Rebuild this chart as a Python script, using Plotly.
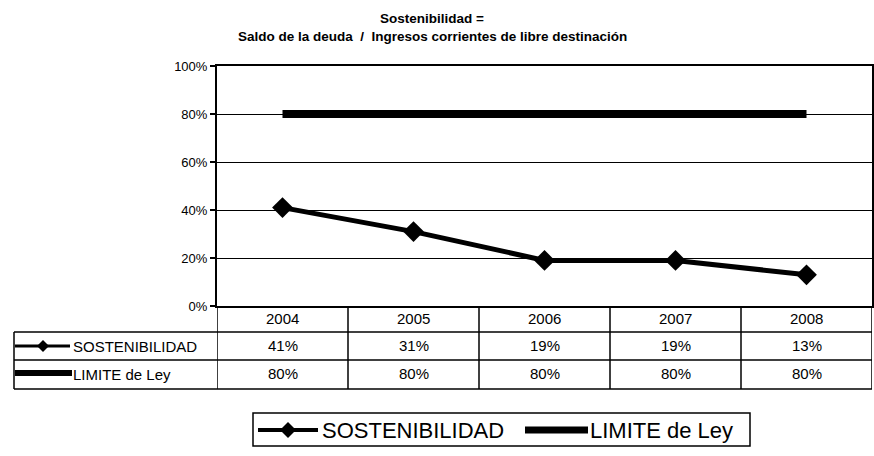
import plotly.graph_objects as go

# ---- data ----
years = ["2004", "2005", "2006", "2007", "2008"]
sostenibilidad = [0.41, 0.31, 0.19, 0.19, 0.13]
limite_ley = [0.80, 0.80, 0.80, 0.80, 0.80]
series_names = ["SOSTENIBILIDAD", "LIMITE de Ley"]
y_ticks = [0, 0.2, 0.4, 0.6, 0.8, 1.0]
title_lines = ["Sostenibilidad =", "Saldo de la deuda  /  Ingresos corrientes de libre destinación"]

W, H = 874, 456
FONT = "Liberation Sans, Arial, sans-serif"


def px(x):
    return x / W


def py(y):
    return 1 - y / H


fig = go.Figure()

fig.add_trace(go.Scatter(
    x=years, y=limite_ley, mode="lines", name=series_names[1],
    line=dict(color="black", width=8), showlegend=False))
fig.add_trace(go.Scatter(
    x=years, y=sostenibilidad, mode="lines+markers", name=series_names[0],
    line=dict(color="black", width=5),
    marker=dict(symbol="diamond", size=16, color="black"), showlegend=False))

shapes = []
annotations = []


def label(x, y, text, size, xanchor="center", xref="paper", bold=False):
    annotations.append(dict(xref=xref, yref="paper", x=x, y=y, xanchor=xanchor, yanchor="middle",
                            text=("<b>" + text + "</b>") if bold else text, showarrow=False,
                            font=dict(family=FONT, size=size, color="black")))


# title
label(px(432), py(19), title_lines[0], 13.5, bold=True)
label(px(432), py(37), title_lines[1], 13.5, bold=True)

# ---- data table ----
LW = 1.5
row_y = [306, 332, 360, 389]
for yy in row_y[1:]:
    shapes.append(dict(type="line", xref="paper", yref="paper", x0=px(14), x1=px(872),
                       y0=py(yy), y1=py(yy), line=dict(color="black", width=LW)))
shapes.append(dict(type="line", xref="paper", yref="paper", x0=px(14), x1=px(14),
                   y0=py(332), y1=py(389), line=dict(color="black", width=LW)))
for i in range(len(years) + 1):
    shapes.append(dict(type="line", xref="x", yref="paper", x0=i - 0.5, x1=i - 0.5,
                       y0=py(306), y1=py(389), line=dict(color="black", width=LW)))

row_vals = [sostenibilidad, limite_ley]
text_y = [318, 345, 373]
for i, yr in enumerate(years):
    label(i, py(text_y[0]), yr, 15, xref="x")
    for r, vals in enumerate(row_vals):
        label(i, py(text_y[r + 1]), f"{round(vals[i] * 100)}%", 15, xref="x")

# row labels with keys
for r, name in enumerate(series_names):
    label(px(71), py(text_y[r + 1] + 1), name, 15, xanchor="left")
yk = 346
shapes.append(dict(type="line", xref="paper", yref="paper", x0=px(15), x1=px(70),
                   y0=py(yk), y1=py(yk), line=dict(color="black", width=3)))
d = 6
shapes.append(dict(type="path", xref="paper", yref="paper",
                   path=f"M{px(43-d)},{py(yk)} L{px(43)},{py(yk-d)} L{px(43+d)},{py(yk)} L{px(43)},{py(yk+d)} Z",
                   fillcolor="black", line=dict(color="black", width=0)))
yk2 = 373
shapes.append(dict(type="line", xref="paper", yref="paper", x0=px(15), x1=px(72),
                   y0=py(yk2), y1=py(yk2), line=dict(color="black", width=6)))

# ---- custom legend ----
shapes.append(dict(type="rect", xref="paper", yref="paper", x0=px(253), x1=px(750),
                   y0=py(413), y1=py(446), line=dict(color="black", width=1.5)))
yl = 430
shapes.append(dict(type="line", xref="paper", yref="paper", x0=px(258), x1=px(318),
                   y0=py(yl), y1=py(yl), line=dict(color="black", width=4)))
d = 8
shapes.append(dict(type="path", xref="paper", yref="paper",
                   path=f"M{px(288-d)},{py(yl)} L{px(288)},{py(yl-d)} L{px(288+d)},{py(yl)} L{px(288)},{py(yl+d)} Z",
                   fillcolor="black", line=dict(color="black", width=0)))
shapes.append(dict(type="line", xref="paper", yref="paper", x0=px(525), x1=px(588),
                   y0=py(yl), y1=py(yl), line=dict(color="black", width=7)))
label(px(320), py(yl), series_names[0], 22, xanchor="left")
label(px(588), py(yl), series_names[1], 22, xanchor="left")

fig.update_layout(
    template="none",
    width=W, height=H,
    margin=dict(l=0, r=0, t=0, b=0, pad=0, autoexpand=False),
    paper_bgcolor="white", plot_bgcolor="white",
    showlegend=False,
    shapes=shapes, annotations=annotations,
    xaxis=dict(domain=[px(217), px(872)], type="category", range=[-0.5, 4.5],
               showticklabels=False, showgrid=False, zeroline=False, automargin=False,
               showline=True, linecolor="black", linewidth=2, mirror=True, ticks=""),
    yaxis=dict(domain=[py(306), py(66)], range=[0, 1], tickvals=y_ticks,
               tickformat=".0%", showgrid=True, gridcolor="black", gridwidth=1,
               zeroline=False, showline=True, linecolor="black", linewidth=2, mirror=True,
               automargin=False,
               ticks="outside", ticklen=5, tickcolor="black", tickwidth=1.5,
               tickfont=dict(family=FONT, size=13, color="black")),
)

fig.write_html("out.html",
               config={"displayModeBar": False},
               post_script="document.body.style.margin='0';document.body.style.overflow='hidden';"
                           "Plotly.Plots.resize(document.getElementById('{plot_id}'));")
